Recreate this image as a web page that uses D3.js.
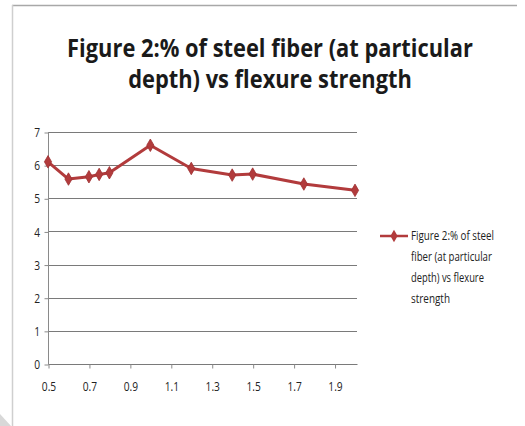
<!DOCTYPE html>
<html>
<head>
<meta charset="utf-8">
<script src="https://cdn.jsdelivr.net/npm/d3@7/dist/d3.min.js"></script>
<style>
  html, body { margin: 0; padding: 0; background: #fff; }
  svg { display: block; }
  text { font-family: "Liberation Sans Narrow", "Open Sans", "Liberation Sans", sans-serif; }
</style>
</head>
<body>
<svg id="chart" width="525" height="426"></svg>
<script>
// Steel fiber percentage vs flexure strength
const fiberPct = [0.5, 0.6, 0.7, 0.75, 0.8, 1.0, 1.2, 1.4, 1.5, 1.75, 2.0];
const flexureStrength = [6.1, 5.58, 5.65, 5.72, 5.77, 6.6, 5.9, 5.7, 5.73, 5.43, 5.24];
const xTickValues = [0.5, 0.7, 0.9, 1.1, 1.3, 1.5, 1.7, 1.9];
const yTickValues = [0, 1, 2, 3, 4, 5, 6, 7];
const titleLines = ["Figure 2:% of steel fiber (at particular", "depth) vs flexure strength"];
const legendLines = ["Figure 2:% of steel", "fiber (at particular", "depth) vs flexure", "strength"];

const svg = d3.select("#chart");
const lineColor = "#b23b3c";

// squeeze a text horizontally to a given width (narrow face look)
function fitWidth(sel, width, anchorX, baseY, measureNode) {
  const node = measureNode || sel.node();
  const natural = node.getComputedTextLength();
  const sx = Math.min(1, width / natural);
  sel.attr("transform", `translate(${anchorX},${baseY}) scale(${sx},1)`);
}

// chart area frame (top and left edges)
svg.append("line").attr("x1", 12).attr("x2", 517).attr("y1", 5.5).attr("y2", 5.5)
  .attr("stroke", "#a8a8a8").attr("stroke-width", 1.5);
svg.append("line").attr("x1", 12.5).attr("x2", 12.5).attr("y1", 5).attr("y2", 426)
  .attr("stroke", "#cfcfcf").attr("stroke-width", 1.5);
svg.append("path").attr("d", "M0,414 L11,426 L0,426 Z").attr("fill", "#d8d8d8");

// two-line title as a single text block
const title = svg.append("text")
  .attr("text-anchor", "middle")
  .attr("font-size", 25).attr("font-weight", "bold")
  .attr("fill", "#1a1a1a");
const tspans = title.selectAll("tspan")
  .data(titleLines)
  .join("tspan")
  .attr("x", 0)
  .attr("y", (d, i) => i * 31)
  .text(d => d);
fitWidth(title, 406, 270, 57, tspans.nodes()[0]);

const x = d3.scaleLinear().domain([0.5, 2.0]).range([48, 355]);
const y = d3.scaleLinear().domain([0, 7]).range([364, 132]);

// horizontal gridlines
svg.append("g")
  .selectAll("line")
  .data(yTickValues.filter(v => v > 0))
  .join("line")
  .attr("x1", 48).attr("x2", 357)
  .attr("y1", d => Math.round(y(d)) + 0.5).attr("y2", d => Math.round(y(d)) + 0.5)
  .attr("stroke", "#7a7a7a").attr("stroke-width", 1);

// y axis
const yAxis = svg.append("g")
  .attr("transform", "translate(48.5,0.5)")
  .call(d3.axisLeft(y).tickValues(yTickValues).tickSize(4).tickFormat(d3.format("d")));
yAxis.select(".domain").attr("stroke", "#8a8a8a").attr("d", "M0,364V132");
yAxis.selectAll(".tick line").attr("stroke", "#8a8a8a");
yAxis.selectAll(".tick text").attr("font-size", 12).attr("fill", "#222").attr("x", -10)
  .attr("dy", "0.35em").attr("transform", "scale(0.85,1)");

// x axis
const xAxis = svg.append("g")
  .attr("transform", "translate(0.5,364.5)")
  .call(d3.axisBottom(x).tickValues(xTickValues).tickSize(4).tickFormat(d3.format(".1f")));
xAxis.select(".domain").attr("stroke", "#7a7a7a").attr("d", "M48,0H357");
xAxis.selectAll(".tick line").attr("stroke", "#8a8a8a");
xAxis.selectAll(".tick text").attr("font-size", 12).attr("fill", "#222").attr("y", 27)
  .attr("dy", 0).attr("transform", "scale(0.85,1)");

// series line
const pts = fiberPct.map((v, i) => [v, flexureStrength[i]]);
svg.append("path")
  .datum(pts)
  .attr("fill", "none")
  .attr("stroke", lineColor)
  .attr("stroke-width", 3)
  .attr("stroke-linejoin", "round")
  .attr("d", d3.line().x(d => x(d[0])).y(d => y(d[1])));

// diamond markers
const diamond = d3.symbol().type(d3.symbolDiamond).size(45);
svg.append("g")
  .selectAll("path")
  .data(pts)
  .join("path")
  .attr("transform", d => `translate(${x(d[0])},${y(d[1])})`)
  .attr("d", diamond)
  .attr("fill", lineColor)
  .attr("stroke", "#9e3031").attr("stroke-width", 0.8);

// legend
const lg = svg.append("g");
lg.append("line").attr("x1", 380).attr("x2", 408).attr("y1", 236).attr("y2", 236)
  .attr("stroke", lineColor).attr("stroke-width", 2.5);
lg.append("path").attr("transform", "translate(394,236)").attr("d", diamond).attr("fill", lineColor);
const legW = [83, 81, 73, 39];
legendLines.forEach((t, i) => {
  const el = lg.append("text")
    .attr("font-size", 12).attr("fill", "#222")
    .text(t);
  fitWidth(el, legW[i], 411, 240 + i * 21);
});
</script>
</body>
</html>
